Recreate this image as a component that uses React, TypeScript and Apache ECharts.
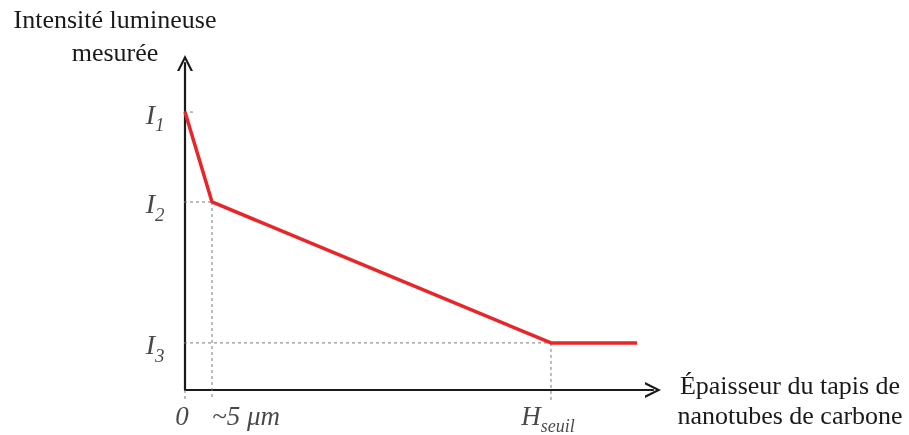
import React, { useEffect, useRef } from 'react';
import * as echarts from 'echarts';

// Data (abstract units: x 0..100, y 0..100)
const curveX = [0, 5.77, 78.2, 96.6];
const curveY = [85.0, 57.5, 14.4, 14.4];
const levelValues = [85.0, 57.5, 14.4];
const levelSubs = ['1', '2', '3'];
const levelGuideEnds = [2.35, 5.77, 78.2];
const xTickValues = [0, 5.77, 78.2];
const xTickLabels = ['{i|0}', '{i|~5 μm}', '{i|H}{s|seuil}'];
const xGuideTops = [0, 57.5, 14.4];
const yTitle = 'Intensité lumineuse\nmesurée';
const xTitle = 'Épaisseur du tapis de\nnanotubes de carbone';

const SERIF = '"Liberation Serif", "DejaVu Serif", serif';
const guideLeft = -2.78;
const guideBottom = -3.06;
const ARROW = 'path://M0,10 L5,0 L10,10 L8.5,10 L5,3 L1.5,10 Z';

export default function App() {
  const ref = useRef<HTMLDivElement>(null);
  useEffect(() => {
    if (!ref.current) return;
    const chart = echarts.init(ref.current, null, { renderer: 'svg' });
    const guideStyle = { color: '#7a7a7a', width: 1, type: [3, 3] as any };
    const guides: any[] = [];
    levelValues.forEach((v, i) => {
      guides.push({
        type: 'line', data: [[guideLeft, v], [levelGuideEnds[i], v]], clip: false,
        symbol: 'none', lineStyle: guideStyle, silent: true, z: 1,
      });
    });
    xTickValues.forEach((x, i) => {
      guides.push({
        type: 'line', data: [[x, xGuideTops[i]], [x, guideBottom]], clip: false,
        symbol: 'none', lineStyle: guideStyle, silent: true, z: 1,
      });
    });
    const txt = { fontFamily: SERIF, fontWeight: 'normal', color: '#1a1a1a' };
    const option: any = {
      animation: false,
      title: [
        { text: yTitle, left: 115, top: 3, padding: 0, textAlign: 'center',
          textStyle: { ...txt, fontSize: 26, lineHeight: 33 } },
        { text: xTitle, left: 790, top: 370, padding: 0, textAlign: 'center',
          textStyle: { ...txt, fontSize: 26, lineHeight: 30 } },
      ],
      grid: { left: 185, top: 63, right: 256, bottom: 45 },
      xAxis: {
        type: 'value', min: 0, max: 100,
        axisLine: { show: true, lineStyle: { color: '#1a1a1a', width: 2.2 },
          symbol: ['none', ARROW], symbolSize: [18, 16] },
        axisTick: { show: false }, axisLabel: { show: false }, splitLine: { show: false },
      },
      yAxis: {
        type: 'value', min: 0, max: 100,
        axisLine: { show: true, lineStyle: { color: '#1a1a1a', width: 2.2 },
          symbol: ['none', ARROW], symbolSize: [18, 16] },
        axisTick: { show: false }, axisLabel: { show: false }, splitLine: { show: false },
      },
      series: [
        ...guides,
        {
          type: 'line', data: curveX.map((x, i) => [x, curveY[i]]), symbol: 'none',
          lineStyle: { color: '#e8262a', width: 3.5 }, z: 5, clip: false,
        },
        {
          type: 'scatter', symbolSize: 1, itemStyle: { color: 'rgba(0,0,0,0)' }, silent: true,
          data: levelValues.map((v) => [0, v]),
          label: {
            show: true, position: 'left', distance: 20, offset: [0, 5],
            formatter: (p: any) => `{i|I}{s|${levelSubs[p.dataIndex]}}`,
            rich: {
              i: { ...txt, fontStyle: 'italic', fontSize: 28, padding: [0, 0, 6, 0] },
              s: { ...txt, fontStyle: 'italic', fontSize: 19, verticalAlign: 'bottom' },
            },
          },
        },
        {
          type: 'scatter', symbolSize: 1, itemStyle: { color: 'rgba(0,0,0,0)' }, silent: true,
          data: xTickValues.map((x, i) => ({ value: [x, 0], label: { offset: i === 1 ? [34, 0] : [-3, 0] } })),
          label: {
            show: true, position: 'bottom', distance: 12,
            formatter: (p: any) => xTickLabels[p.dataIndex],
            rich: {
              i: { ...txt, fontStyle: 'italic', fontSize: 27, padding: [0, 0, 5, 0] },
              s: { ...txt, fontStyle: 'italic', fontSize: 18, verticalAlign: 'bottom' },
            },
          },
        },
      ],
    };
    chart.setOption(option);
    return () => chart.dispose();
  }, []);
  return <div ref={ref} style={{ position: 'fixed', left: 0, top: 0, width: 909, height: 435 }} />;
}
